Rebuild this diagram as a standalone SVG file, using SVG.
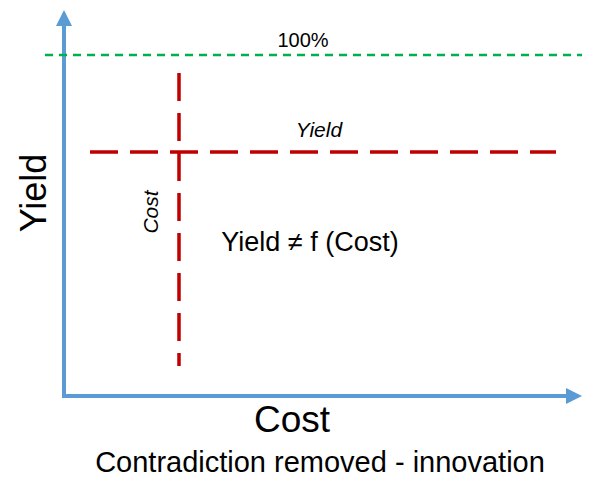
<svg xmlns="http://www.w3.org/2000/svg" width="606" height="493" viewBox="0 0 606 493">
<style>
text{font-family:"Liberation Sans",Arial,sans-serif;fill:#000}
.ax{stroke:#5B9BD5;stroke-width:4;fill:none}
.red{stroke:#C00000;stroke-width:3.5;stroke-dasharray:28 12;fill:none}
</style>
<defs><marker id="ah" markerWidth="4" markerHeight="4" refX="2" refY="2" orient="auto" markerUnits="strokeWidth"><path d="M0,0L4,2L0,4z" fill="#5B9BD5"/></marker></defs>
<rect width="606" height="493" fill="#fff"/>
<g id="connectors">
<line class="ax" x1="64" y1="396" x2="64" y2="18" marker-end="url(#ah)"/>
<line class="ax" x1="62" y1="396" x2="574" y2="396" marker-end="url(#ah)"/>
<line x1="45" y1="55" x2="582" y2="55" stroke="#00B050" stroke-width="2.5" stroke-dasharray="8 6"/>
<line class="red" x1="90" y1="152" x2="556" y2="152"/>
<line class="red" x1="179" y1="73" x2="179" y2="366"/>
</g>
<g id="labels">
<text x="303" y="47" font-size="20" text-anchor="middle">100%</text>
<text x="319" y="137" font-size="21" font-style="italic" text-anchor="middle">Yield</text>
<text transform="translate(158,212) rotate(-90)" font-size="21" font-style="italic" text-anchor="middle">Cost</text>
<text x="310" y="251" font-size="27" text-anchor="middle">Yield ≠ f (Cost)</text>
<text transform="translate(46,193) rotate(-90)" font-size="36" text-anchor="middle">Yield</text>
<text x="292" y="432" font-size="37" text-anchor="middle">Cost</text>
<text x="320" y="472" font-size="29" text-anchor="middle">Contradiction removed - innovation</text>
</g>
</svg>
